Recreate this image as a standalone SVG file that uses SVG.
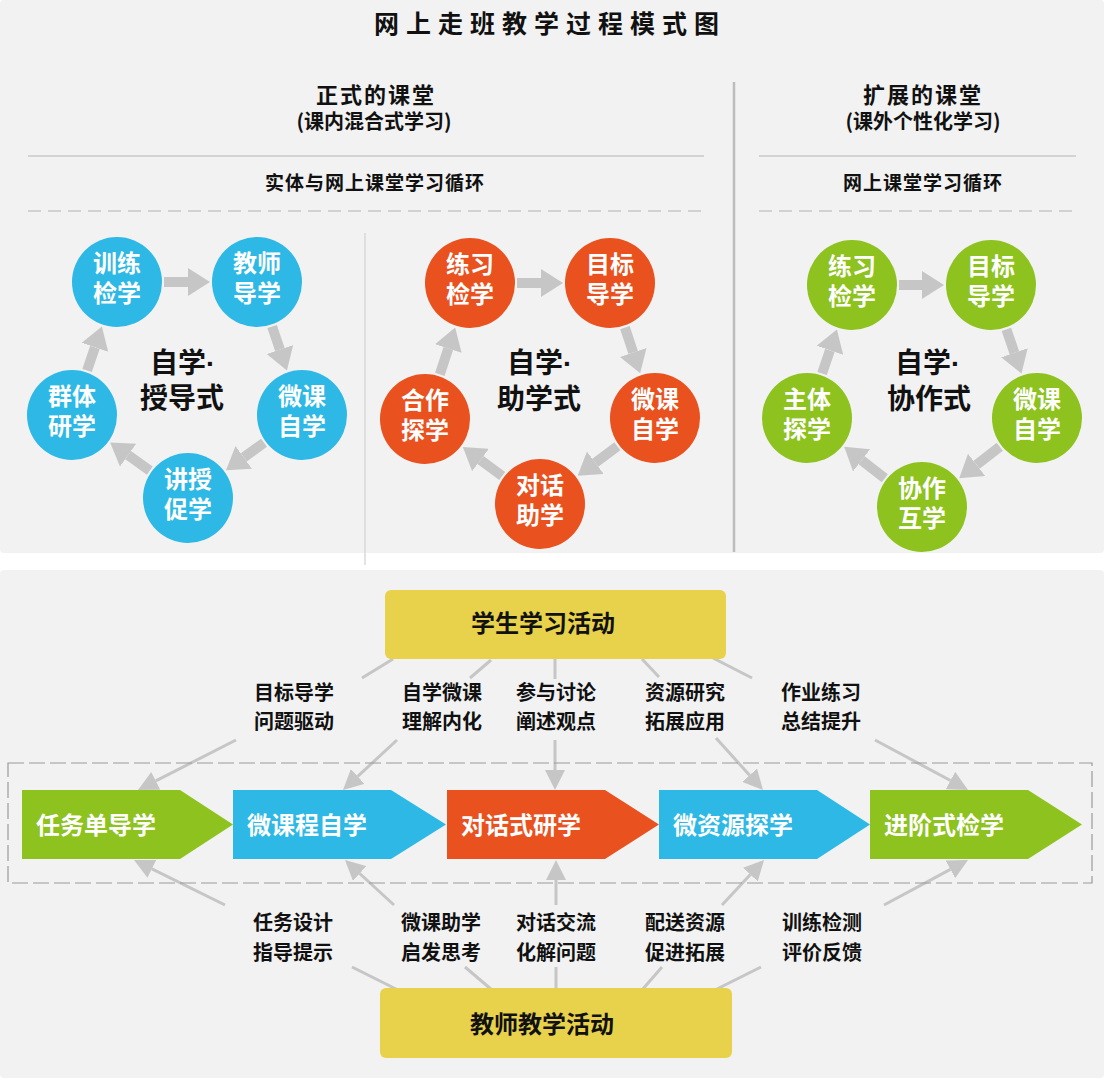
<svg xmlns="http://www.w3.org/2000/svg" width="1104" height="1078" viewBox="0 0 1104 1078">
<style>
text{font-family:"Noto Sans CJK SC","Liberation Sans",sans-serif;}
.title{font-size:25px;font-weight:700;fill:#111;letter-spacing:7px;text-anchor:middle;}
.h1{font-size:22px;font-weight:700;fill:#111;letter-spacing:2px;text-anchor:middle;}
.h2{font-size:20px;font-weight:700;fill:#111;text-anchor:middle;}
.h3{font-size:19px;font-weight:700;fill:#111;letter-spacing:1px;text-anchor:middle;}
.ct{font-size:24px;font-weight:700;fill:#fff;text-anchor:middle;}
.mid{font-size:28px;font-weight:700;fill:#111;}
.dot{font-family:"Liberation Sans",sans-serif;}
.cv{font-size:24px;font-weight:700;fill:#fff;}
.lb{font-size:20px;font-weight:700;fill:#111;text-anchor:middle;}
.bx{font-size:24px;font-weight:700;fill:#111;text-anchor:middle;}
.blue{fill:#2db8e5;}
.orange{fill:#e9511f;}
.green{fill:#8dc21f;}
.yellow{fill:#e8d24b;}
.cyc{stroke:#c6c6c6;stroke-width:10;fill:none;marker-end:url(#bigHead);}
.con{stroke:#c6c6c6;stroke-width:3;fill:none;}
.cona{stroke:#c6c6c6;stroke-width:3;fill:none;marker-end:url(#smallHead);}
</style>
<defs>
<marker id="bigHead" markerUnits="userSpaceOnUse" markerWidth="22" markerHeight="28" viewBox="0 0 22 28" refX="0" refY="14" orient="auto"><path d="M0,0 L22,14 L0,28 z" fill="#c6c6c6"/></marker>
<marker id="smallHead" markerUnits="userSpaceOnUse" markerWidth="20" markerHeight="20" viewBox="0 0 20 20" refX="0" refY="10" orient="auto"><path d="M0,0 L20,10 L0,20 z" fill="#c6c6c6"/></marker>
</defs>
<rect x="0" y="0" width="1104" height="1078" fill="#ffffff"/>
<rect x="0" y="0" width="1104" height="553" rx="4" fill="#f2f2f2"/>
<rect x="0" y="570" width="1104" height="508" rx="4" fill="#f2f2f2"/>

<g id="headers">
<text class="title" x="550" y="33">网上走班教学过程模式图</text>
<text class="h1" x="376" y="103">正式的课堂</text>
<text class="h2" x="374" y="129">(课内混合式学习)</text>
<text class="h1" x="923" y="103">扩展的课堂</text>
<text class="h2" x="923" y="129">(课外个性化学习)</text>
<line x1="28" y1="156" x2="704" y2="156" stroke="#c8c8c8" stroke-width="1.5"/>
<line x1="759" y1="156" x2="1076" y2="156" stroke="#c8c8c8" stroke-width="1.5"/>
<text class="h3" x="375" y="190">实体与网上课堂学习循环</text>
<text class="h3" x="923" y="190">网上课堂学习循环</text>
<line x1="28" y1="211" x2="704" y2="211" stroke="#c8c8c8" stroke-width="1.5" stroke-dasharray="13 7"/>
<line x1="759" y1="211" x2="1076" y2="211" stroke="#c8c8c8" stroke-width="1.5" stroke-dasharray="13 7"/>
<line x1="734" y1="82" x2="734" y2="552" stroke="#bdbdbd" stroke-width="2.5"/>
<line x1="365" y1="233" x2="365" y2="565" stroke="#d0d0d0" stroke-width="1.2"/>
</g>

<g id="connectors">
<line class="cyc" x1="164" y1="282" x2="188" y2="282"/>
<line class="cyc" x1="272.1" y1="326.5" x2="279.9" y2="349.6"/>
<line class="cyc" x1="264" y1="442.7" x2="243.8" y2="457.4"/>
<line class="cyc" x1="149.8" y1="470.6" x2="128.1" y2="455.2"/>
<line class="cyc" x1="87.1" y1="370.5" x2="94.9" y2="347.3"/>

<line class="cyc" x1="517" y1="283" x2="541" y2="283"/>
<line class="cyc" x1="624.9" y1="327.6" x2="633.2" y2="352.5"/>
<line class="cyc" x1="617.4" y1="446.2" x2="595.3" y2="462.7"/>
<line class="cyc" x1="502.2" y1="476.1" x2="480.5" y2="460"/>
<line class="cyc" x1="439.8" y1="374.4" x2="448.3" y2="348.5"/>

<line class="cyc" x1="899" y1="285" x2="922" y2="285"/>
<line class="cyc" x1="1006.4" y1="329.4" x2="1014.4" y2="352.8"/>
<line class="cyc" x1="999.8" y1="446.8" x2="976.6" y2="464.8"/>
<line class="cyc" x1="884.8" y1="478.2" x2="861.6" y2="460.3"/>
<line class="cyc" x1="822.1" y1="373.5" x2="829.9" y2="350.3"/>

<line class="con" x1="393" y1="659" x2="362" y2="678"/>
<line class="con" x1="491" y1="660" x2="470" y2="678"/>
<line class="con" x1="555" y1="659" x2="555" y2="679"/>
<line class="con" x1="642" y1="659" x2="659" y2="677"/>
<line class="con" x1="713" y1="658" x2="752" y2="678"/>
<line class="cona" x1="236" y1="740" x2="155.8" y2="780.9"/>
<line class="cona" x1="397" y1="740" x2="357.7" y2="776.4"/>
<line class="cona" x1="555" y1="740" x2="555" y2="770"/>
<line class="cona" x1="716" y1="738" x2="749.6" y2="775.2"/>
<line class="cona" x1="875" y1="740" x2="950.4" y2="780.5"/>

<line class="cona" x1="225" y1="905" x2="151.9" y2="868.9"/>
<line class="cona" x1="394" y1="905" x2="359.7" y2="873.5"/>
<line class="cona" x1="556" y1="905" x2="556" y2="880"/>
<line class="cona" x1="722" y1="905" x2="750.4" y2="874.6"/>
<line class="cona" x1="884" y1="905" x2="950.4" y2="869.4"/>
<line class="con" x1="352" y1="967" x2="398" y2="990"/>
<line class="con" x1="465" y1="967" x2="492" y2="990"/>
<line class="con" x1="556" y1="967" x2="556" y2="990"/>
<line class="con" x1="662" y1="967" x2="642" y2="990"/>
<line class="con" x1="761" y1="967" x2="715" y2="990"/>
</g>

<g id="cycle-left">
<text class="mid" x="150" y="373">自学<tspan class="dot">·</tspan><tspan x="140" y="408">授导式</tspan></text>
</g>
<g id="L1"><circle class="blue" cx="117" cy="282" r="45"/><text class="ct" x="117" y="272">训练<tspan x="117" y="302">检学</tspan></text></g>
<g id="L2"><circle class="blue" cx="257" cy="282" r="45"/><text class="ct" x="257" y="272">教师<tspan x="257" y="302">导学</tspan></text></g>
<g id="L3"><circle class="blue" cx="302" cy="415" r="45"/><text class="ct" x="302" y="405">微课<tspan x="302" y="435">自学</tspan></text></g>
<g id="L4"><circle class="blue" cx="188" cy="498" r="45"/><text class="ct" x="188" y="488">讲授<tspan x="188" y="518">促学</tspan></text></g>
<g id="L5"><circle class="blue" cx="72" cy="415" r="45"/><text class="ct" x="72" y="405">群体<tspan x="72" y="435">研学</tspan></text></g>

<g id="cycle-mid">
<text class="mid" x="507" y="373">自学<tspan class="dot">·</tspan><tspan x="497" y="409">助学式</tspan></text>
</g>
<g id="M1"><circle class="orange" cx="470" cy="283" r="45"/><text class="ct" x="470" y="273">练习<tspan x="470" y="303">检学</tspan></text></g>
<g id="M2"><circle class="orange" cx="610" cy="283" r="45"/><text class="ct" x="610" y="273">目标<tspan x="610" y="303">导学</tspan></text></g>
<g id="M3"><circle class="orange" cx="655" cy="418" r="45"/><text class="ct" x="655" y="408">微课<tspan x="655" y="438">自学</tspan></text></g>
<g id="M4"><circle class="orange" cx="540" cy="504" r="45"/><text class="ct" x="540" y="494">对话<tspan x="540" y="524">助学</tspan></text></g>
<g id="M5"><circle class="orange" cx="425" cy="419" r="45"/><text class="ct" x="425" y="409">合作<tspan x="425" y="439">探学</tspan></text></g>

<g id="cycle-right">
<text class="mid" x="895" y="373">自学<tspan class="dot">·</tspan><tspan x="887" y="409">协作式</tspan></text>
</g>
<g id="R1"><circle class="green" cx="852" cy="285" r="45"/><text class="ct" x="852" y="275">练习<tspan x="852" y="305">检学</tspan></text></g>
<g id="R2"><circle class="green" cx="991" cy="285" r="45"/><text class="ct" x="991" y="275">目标<tspan x="991" y="305">导学</tspan></text></g>
<g id="R3"><circle class="green" cx="1037" cy="418" r="45"/><text class="ct" x="1037" y="408">微课<tspan x="1037" y="438">自学</tspan></text></g>
<g id="R4"><circle class="green" cx="922" cy="507" r="45"/><text class="ct" x="922" y="497">协作<tspan x="922" y="527">互学</tspan></text></g>
<g id="R5"><circle class="green" cx="807" cy="418" r="45"/><text class="ct" x="807" y="408">主体<tspan x="807" y="438">探学</tspan></text></g>

<g id="student-box"><rect class="yellow" x="385" y="590" width="341" height="69" rx="6"/><text class="bx" x="543" y="632">学生学习活动</text></g>
<g id="teacher-box"><rect class="yellow" x="380" y="988" width="352" height="70" rx="6"/><text class="bx" x="542" y="1033">教师教学活动</text></g>

<rect x="8" y="763" width="1084" height="120" fill="none" stroke="#9a9a9a" stroke-width="1.2" stroke-dasharray="16 5"/>

<g id="S1"><polygon class="green" points="22,790 180,790 233,824.5 180,859 22,859"/><text class="cv" x="36" y="834">任务单导学</text></g>
<g id="S2"><polygon class="blue" points="233,790 391,790 446,824.5 391,859 233,859"/><text class="cv" x="247" y="834">微课程自学</text></g>
<g id="S3"><polygon class="orange" points="447,790 605,790 659,824.5 605,859 447,859"/><text class="cv" x="461" y="834">对话式研学</text></g>
<g id="S4"><polygon class="blue" points="659,790 817,790 870,824.5 817,859 659,859"/><text class="cv" x="673" y="834">微资源探学</text></g>
<g id="S5"><polygon class="green" points="870,790 1028,790 1082,824.5 1028,859 870,859"/><text class="cv" x="884" y="834">进阶式检学</text></g>

<g id="labels-top">
<text class="lb" x="294" y="700">目标导学<tspan x="294" y="729">问题驱动</tspan></text>
<text class="lb" x="442" y="700">自学微课<tspan x="442" y="729">理解内化</tspan></text>
<text class="lb" x="556" y="700">参与讨论<tspan x="556" y="729">阐述观点</tspan></text>
<text class="lb" x="685" y="700">资源研究<tspan x="685" y="729">拓展应用</tspan></text>
<text class="lb" x="821" y="700">作业练习<tspan x="821" y="729">总结提升</tspan></text>
</g>
<g id="labels-bottom">
<text class="lb" x="293" y="930">任务设计<tspan x="293" y="960">指导提示</tspan></text>
<text class="lb" x="441" y="930">微课助学<tspan x="441" y="960">启发思考</tspan></text>
<text class="lb" x="556" y="930">对话交流<tspan x="556" y="960">化解问题</tspan></text>
<text class="lb" x="685" y="930">配送资源<tspan x="685" y="960">促进拓展</tspan></text>
<text class="lb" x="822" y="930">训练检测<tspan x="822" y="960">评价反馈</tspan></text>
</g>
</svg>
